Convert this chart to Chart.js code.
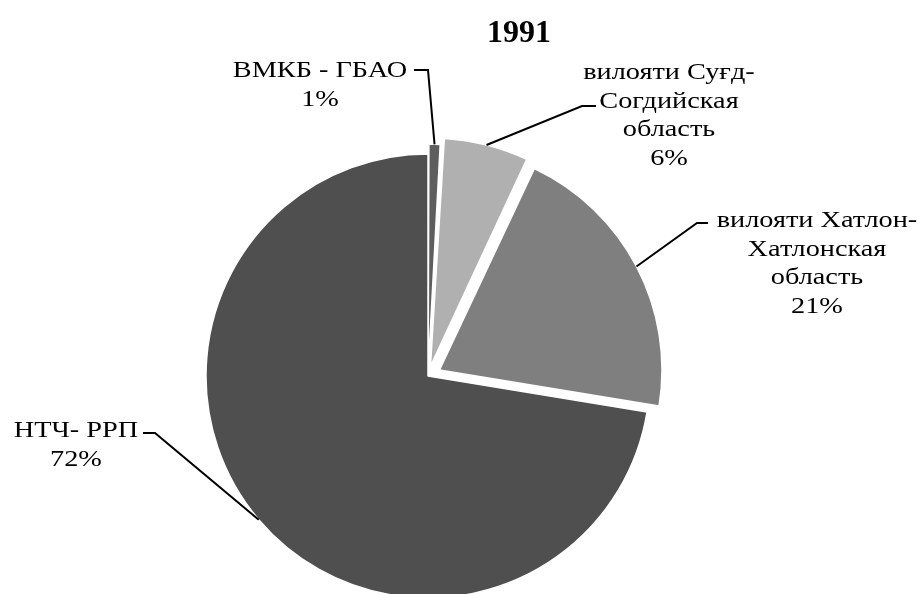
<!DOCTYPE html>
<html>
<head>
<meta charset="utf-8">
<script src="https://cdn.jsdelivr.net/npm/chart.js@4"></script>
<style>
  html, body { margin: 0; padding: 0; background: #fff; overflow: hidden; }
  #wrap { width: 920px; height: 594px; }
</style>
</head>
<body>
<div id="wrap"><canvas id="pieChart"></canvas></div>
<script>
// Data (shares, %)
const chartTitle = '1991';
const regionLabels = [
    ['ВМКБ - ГБАО'],
    ['вилояти Суғд-', 'Согдийская', 'область'],
    ['вилояти Хатлон-', 'Хатлонская', 'область'],
    ['НТЧ- РРП']
];
const shares = [0.9, 6.1, 20.6, 72.4];
const sliceColors = ['#5e5e5e', '#b0b0b0', '#7f7f7f', '#4f4f4f'];
// chart.js v4 moves a slice by offset / 4 pixels
const sliceOffsets = [20, 40, 52, 0];

// text centre x, first baseline y, and the short horizontal stub of the leader
const labelSpots = [
    { x: 320, y: 77, stubY: 70, stubFrom: 414, stubTo: 428 },
    { x: 669, y: 79, stubY: 106, stubFrom: 596, stubTo: 582 },
    { x: 817, y: 227, stubY: 223, stubFrom: 708, stubTo: 697 },
    { x: 76, y: 437, stubY: 433, stubFrom: 143, stubTo: 155 }
];

const serif = '"Liberation Serif", "Times New Roman", serif';
const lineGap = 28.7;
const textStretch = 1.23;

// draws the title, labels and leader lines
const labelPlugin = {
    id: 'pieLabels',
    afterDatasetsDraw(chart) {
        const ctx = chart.ctx;
        const arcs = chart.getDatasetMeta(0).data;
        ctx.save();
        ctx.fillStyle = '#000';
        ctx.textAlign = 'center';
        ctx.textBaseline = 'alphabetic';

        ctx.font = 'bold 32px ' + serif;
        ctx.fillText(chartTitle, 519, 42);

        ctx.font = '23px ' + serif;
        ctx.strokeStyle = '#000';
        ctx.lineWidth = 2;

        arcs.forEach((arc, i) => {
            const spot = labelSpots[i];
            const lines = regionLabels[i].concat([Math.round(shares[i]) + '%']);
            lines.forEach((txt, k) => {
                ctx.save();
                ctx.translate(spot.x, spot.y + k * lineGap);
                ctx.scale(textStretch, 1);
                ctx.fillText(txt, 0, 0);
                ctx.restore();
            });

            // leader from text to middle of slice edge
            const p = arc.getProps(['x', 'y', 'startAngle', 'endAngle', 'outerRadius', 'circumference'], true);
            const mid = (p.startAngle + p.endAngle) / 2;
            const shift = (arc.options.offset || 0) / 4;
            const grow = shift * (1 - Math.sin(Math.min(Math.PI, p.circumference)));
            const r = p.outerRadius + shift + grow;
            const ax = p.x + Math.cos(mid) * r;
            const ay = p.y + Math.sin(mid) * r;
            ctx.beginPath();
            ctx.moveTo(spot.stubFrom, spot.stubY);
            ctx.lineTo(spot.stubTo, spot.stubY);
            ctx.lineTo(ax, ay);
            ctx.stroke();
        });
        ctx.restore();
    }
};

const pieCtx = document.getElementById('pieChart').getContext('2d');
new Chart(pieCtx, {
    type: 'pie',
    data: {
        labels: regionLabels.map(l => l.join(' ')),
        datasets: [{
            data: shares,
            backgroundColor: sliceColors,
            borderColor: '#ffffff',
            borderWidth: 1.5,
            offset: sliceOffsets
        }]
    },
    options: {
        responsive: true,
        maintainAspectRatio: false,
        animation: false,
        radius: 222,
        layout: { padding: { left: 0, right: 64, top: 158, bottom: 0 } },
        plugins: {
            legend: { display: false },
            tooltip: { enabled: false },
            title: { display: false }
        }
    },
    plugins: [labelPlugin]
});
</script>
</body>
</html>
